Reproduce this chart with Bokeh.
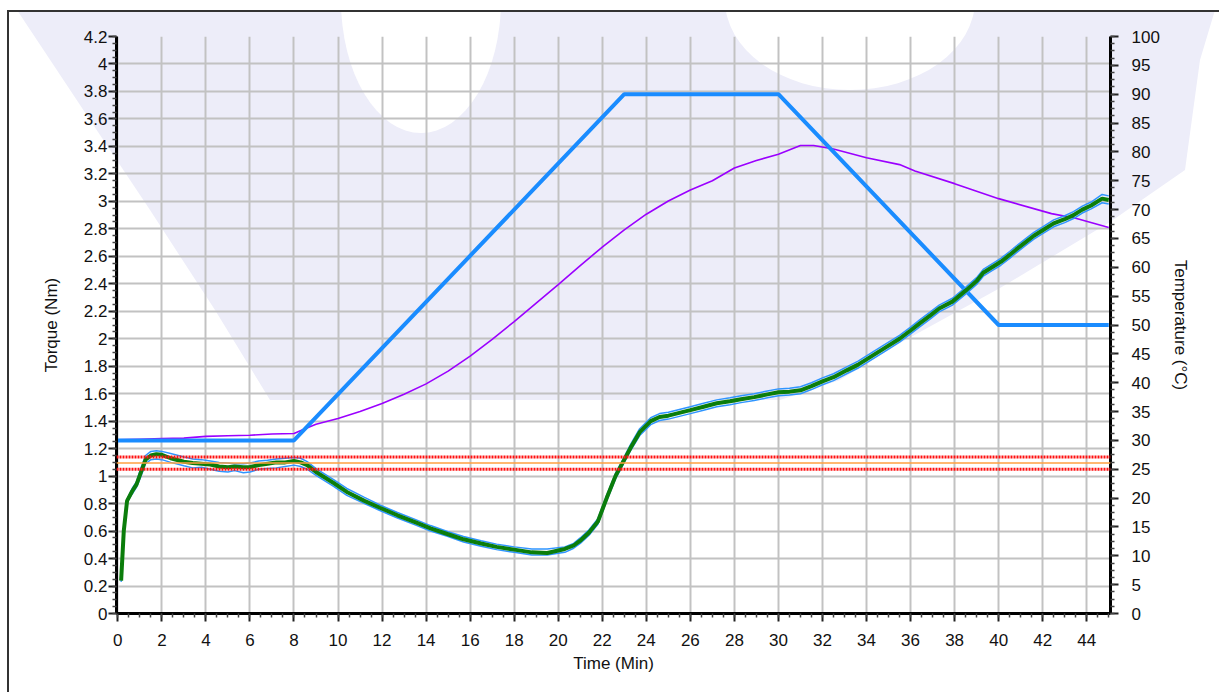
from bokeh.plotting import figure
from bokeh.models import Range1d, LinearAxis, SingleIntervalTicker, CustomJSTickFormatter, Span
from bokeh.embed import file_html
from bokeh.resources import INLINE

# ---- data ----
time_min = [0.15, 0.27, 0.42, 0.65, 0.85, 1.03, 1.26, 1.5, 1.75, 2.0, 2.4, 3.0, 3.4, 3.8, 4.2, 4.6, 5.0, 5.3,
            5.7, 6.0, 6.4, 6.8, 7.2, 7.6, 8.0, 8.3, 8.6, 9.0, 9.4, 9.8, 10.4, 11.2, 11.9, 12.7, 13.5, 14.2,
            15.0, 15.7, 16.5, 17.2, 18.0, 18.8, 19.5, 20.3, 20.7, 21.0, 21.4, 21.8, 22.2, 22.6, 23.0, 23.3,
            23.7, 24.2, 24.6, 25.0, 25.5, 26.0, 26.6, 27.2, 27.8, 28.3, 28.9, 29.5, 30.0, 30.5, 31.0, 31.5,
            32.0, 32.5, 33.1, 33.6, 34.2, 34.8, 35.5, 36.0, 36.4, 36.9, 37.3, 37.9, 38.5, 39.0, 39.3, 39.7,
            40.1, 40.5, 40.8, 41.2, 41.6, 42.0, 42.5, 43.0, 43.4, 43.8, 44.2, 44.7, 45.0]
torque_nm = [0.24, 0.60, 0.82, 0.89, 0.94, 1.02, 1.12, 1.15, 1.16, 1.155, 1.13, 1.105, 1.095, 1.09, 1.085,
             1.07, 1.065, 1.07, 1.065, 1.066, 1.08, 1.09, 1.10, 1.10, 1.11, 1.10, 1.08, 1.03, 0.99, 0.95,
             0.885, 0.82, 0.77, 0.715, 0.665, 0.62, 0.577, 0.54, 0.51, 0.485, 0.465, 0.445, 0.44, 0.47,
             0.495, 0.53, 0.59, 0.67, 0.84, 1.0, 1.12, 1.21, 1.32, 1.40, 1.43, 1.44, 1.46, 1.48, 1.505,
             1.53, 1.545, 1.56, 1.575, 1.595, 1.61, 1.615, 1.625, 1.655, 1.69, 1.72, 1.77, 1.81, 1.87,
             1.93, 2.0, 2.06, 2.11, 2.17, 2.22, 2.27, 2.35, 2.42, 2.48, 2.52, 2.56, 2.61, 2.65, 2.70,
             2.75, 2.79, 2.84, 2.87, 2.90, 2.94, 2.97, 3.02, 3.01]
torque_upper = [0.25, 0.61, 0.83, 0.91, 0.96, 1.05, 1.15, 1.18, 1.185, 1.18, 1.165, 1.14, 1.125, 1.12, 1.11,
                1.10, 1.095, 1.09, 1.09, 1.095, 1.11, 1.115, 1.125, 1.13, 1.135, 1.13, 1.105, 1.055, 1.015,
                0.975, 0.91, 0.845, 0.79, 0.735, 0.685, 0.64, 0.595, 0.56, 0.53, 0.505, 0.485, 0.47, 0.47,
                0.485, 0.51, 0.55, 0.61, 0.69, 0.86, 1.02, 1.14, 1.235, 1.345, 1.425, 1.455, 1.465, 1.485,
                1.505, 1.53, 1.555, 1.57, 1.585, 1.60, 1.62, 1.635, 1.64, 1.65, 1.68, 1.715, 1.745, 1.795,
                1.835, 1.895, 1.955, 2.025, 2.085, 2.135, 2.195, 2.245, 2.295, 2.375, 2.445, 2.505, 2.545,
                2.585, 2.635, 2.675, 2.725, 2.775, 2.815, 2.865, 2.895, 2.925, 2.965, 2.995, 3.05, 3.04]
torque_lower = [0.23, 0.59, 0.81, 0.87, 0.92, 0.99, 1.09, 1.12, 1.125, 1.12, 1.10, 1.075, 1.06, 1.065, 1.05,
                1.035, 1.03, 1.04, 1.025, 1.03, 1.05, 1.055, 1.06, 1.07, 1.08, 1.07, 1.05, 1.005, 0.965,
                0.925, 0.86, 0.80, 0.75, 0.695, 0.645, 0.60, 0.56, 0.52, 0.49, 0.465, 0.445, 0.425, 0.425,
                0.445, 0.475, 0.51, 0.57, 0.65, 0.82, 0.98, 1.10, 1.19, 1.295, 1.375, 1.405, 1.415, 1.435,
                1.455, 1.48, 1.505, 1.52, 1.535, 1.55, 1.57, 1.585, 1.59, 1.60, 1.63, 1.665, 1.695, 1.745,
                1.785, 1.845, 1.905, 1.975, 2.035, 2.085, 2.145, 2.195, 2.245, 2.325, 2.395, 2.455, 2.495,
                2.535, 2.585, 2.625, 2.675, 2.725, 2.765, 2.815, 2.845, 2.875, 2.915, 2.945, 2.99, 2.98]

temp_time = [0, 1, 2, 3, 4, 5, 6, 7, 8, 8.5, 9, 10, 11, 12, 13, 14, 15, 16, 17, 18, 19, 20, 21, 22, 23,
             24, 25, 26, 27, 28, 29, 30, 31, 31.6, 32.5, 34, 35.5, 36.2, 38, 40, 42.4, 43.5, 45]
temp_actual_c = [30.1, 30.2, 30.3, 30.4, 30.7, 30.8, 30.9, 31.1, 31.2, 32.0, 32.8, 33.8, 35.0, 36.4, 38.0,
                 39.8, 42.0, 44.6, 47.5, 50.6, 53.8, 57.0, 60.3, 63.5, 66.5, 69.2, 71.5, 73.4, 75.0, 77.2,
                 78.5, 79.6, 81.1, 81.1, 80.5, 79.0, 77.8, 76.7, 74.5, 71.9, 69.3, 68.5, 66.9]

setpoint_time = [0, 8, 23, 30, 40, 45]
setpoint_c = [30, 30, 90, 90, 50, 50]

limit_upper_nm = 1.14
limit_lower_nm = 1.05
target_nm = 1.095

FONT = "Liberation Sans"

# faint watermark behind the chart (page decoration only)
WATERMARK = ("data:image/svg+xml;utf8,<svg xmlns='http://www.w3.org/2000/svg' width='1215' height='685'>"
             "<polygon fill='%23ededf9' points='10,0 83,110 143,200 208,300 263,390 773,390 833,370 "
             "893,333 993,278 1103,212 1178,160 1193,50 1208,0'/>"
             "<ellipse fill='white' cx='414' cy='-10' rx='80' ry='133'/>"
             "<ellipse fill='white' cx='843' cy='-10' rx='125' ry='90'/></svg>")

p = figure(width=1212, height=682, output_backend="svg", toolbar_location=None,
           x_range=Range1d(-0.06, 45.08), y_range=Range1d(0, 4.2),
           min_border_left=107, min_border_right=111, min_border_top=24, min_border_bottom=81)
p.background_fill_alpha = 0
p.border_fill_alpha = 0
p.outline_line_color = None
p.extra_y_ranges = {"temp": Range1d(0, 100)}
p.styles = {"margin-left": "7px", "margin-top": "10px",
            "border-top": "2px solid #333333", "border-left": "2px solid #333333",
            "background-color": "white",
            "background-image": 'url("' + WATERMARK + '")',
            "background-repeat": "no-repeat", "background-origin": "border-box"}

xt = SingleIntervalTicker(interval=2, num_minor_ticks=4)
yt = SingleIntervalTicker(interval=0.2, num_minor_ticks=4)
p.xaxis.ticker = xt
p.yaxis.ticker = yt
p.xgrid.ticker = xt
p.ygrid.ticker = yt
p.yaxis.formatter = CustomJSTickFormatter(code="return String(Number(tick.toFixed(2)));")
for g in (p.xgrid, p.ygrid):
    g.grid_line_color = "#c2c2c2"
    g.grid_line_width = 2

right = LinearAxis(y_range_name="temp", ticker=SingleIntervalTicker(interval=5, num_minor_ticks=4))
p.add_layout(right, "right")

for ax in (p.xaxis[0], p.yaxis[0], right):
    ax.axis_line_color = "black"
    ax.axis_line_width = 3
    ax.major_tick_line_color = "#222222"
    ax.major_tick_line_width = 2
    ax.minor_tick_line_color = "#444444"
    ax.minor_tick_line_width = 1.5
    ax.major_tick_in = 0
    ax.minor_tick_in = 0
    ax.major_tick_out = 8
    ax.minor_tick_out = 4
    ax.major_label_text_font = FONT
    ax.major_label_text_font_size = "17px"
    ax.major_label_text_color = "#111111"
    ax.axis_label_text_font = FONT
    ax.axis_label_text_font_size = "17px"
    ax.axis_label_text_font_style = "normal"
    ax.axis_label_text_color = "#111111"

p.xaxis.axis_label = "Time (Min)"
p.xaxis.major_label_standoff = 12
p.xaxis.axis_label_standoff = 5
p.yaxis.axis_label = "Torque (Nm)"
p.yaxis.major_label_standoff = 1
p.yaxis.axis_label_standoff = 20
right.axis_label = "Temperature (°C)"
right.major_label_standoff = 13
right.axis_label_standoff = 8

# limit lines
for loc in (limit_upper_nm, limit_lower_nm):
    p.add_layout(Span(location=loc, dimension="width", line_color="#ff1010",
                      line_width=3, line_dash="2 1"))
p.add_layout(Span(location=target_nm, dimension="width", line_color="#ffa040", line_width=1.5))

# temperatures (right axis)
p.line(temp_time, temp_actual_c, y_range_name="temp", line_color="#9b00ff", line_width=1.6)
p.line(setpoint_time, setpoint_c, y_range_name="temp", line_color="#1a8cff", line_width=4)

# torque
p.line(time_min, torque_upper, line_color="#2f95ff", line_width=1.5)
p.line(time_min, torque_lower, line_color="#2f95ff", line_width=1.5)
p.line(time_min, torque_nm, line_color="#0b7d0b", line_width=4)

open("out.html", "w").write(file_html(p, INLINE))
